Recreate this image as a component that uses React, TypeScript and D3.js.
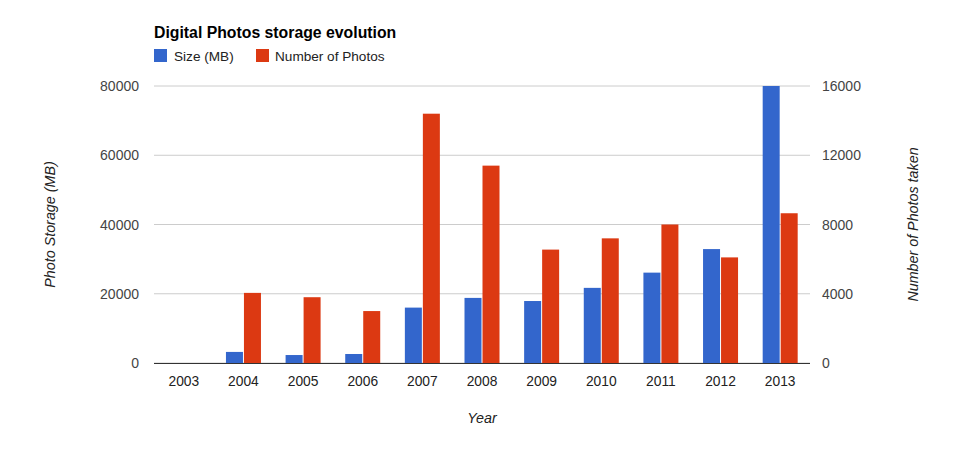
import React from 'react';
import * as d3 from 'd3';

const years = ['2003', '2004', '2005', '2006', '2007', '2008', '2009', '2010', '2011', '2012', '2013'];
const sizeMB = [0, 3200, 2300, 2600, 16000, 18800, 17900, 21700, 26100, 32900, 80000];
const photos = [0, 4050, 3800, 3000, 14400, 11400, 6550, 7200, 8000, 6100, 8650];
const leftTicks = [0, 20000, 40000, 60000, 80000];
const rightTicks = [0, 4000, 8000, 12000, 16000];

const W = 964, H = 449;
const left = 154, right = 810, top = 86, bottom = 363;
const font = 'Arial, "Liberation Sans", sans-serif';

export default function App() {
  const x = d3.scaleBand().domain(years).range([left, right]).paddingInner(0).paddingOuter(0);
  const yL = d3.scaleLinear().domain([0, 80000]).range([bottom, top]);
  const yR = d3.scaleLinear().domain([0, 16000]).range([bottom, top]);
  const barW = 17;

  return (
    <svg width={W} height={H} style={{ position: 'absolute', left: 0, top: 0 }} fontFamily={font}>
      <rect width={W} height={H} fill="#fff" />
      <text x={154} y={38} fontSize={15.8} fontWeight="bold" fill="#000">Digital Photos storage evolution</text>
      {/* legend */}
      <rect x={154} y={49} width={13} height={13} fill="#3366cc" />
      <text x={174} y={60.5} fontSize={13.6} fill="#222">Size (MB)</text>
      <rect x={256} y={49} width={13} height={13} fill="#dc3912" />
      <text x={275} y={60.5} fontSize={13.6} fill="#222">Number of Photos</text>

      {/* gridlines */}
      {leftTicks.map(t => (
        <g key={t}>
          <line x1={left} x2={right} y1={yL(t)} y2={yL(t)} stroke="#cccccc" />
          <text x={139} y={yL(t) + 5} textAnchor="end" fontSize={14} fill="#444">{t}</text>
        </g>
      ))}
      {rightTicks.map(t => (
        <text key={t} x={822} y={yR(t) + 5} fontSize={14} fill="#444">{t}</text>
      ))}

      {/* bars */}
      {years.map((yr, i) => {
        const c = (x(yr) as number) + x.bandwidth() / 2;
        return (
          <g key={yr}>
            {sizeMB[i] > 0 && (
              <rect x={c - barW - 0.5} y={yL(sizeMB[i])} width={barW} height={bottom - yL(sizeMB[i])} fill="#3366cc" />
            )}
            {photos[i] > 0 && (
              <rect x={c + 0.5} y={yR(photos[i])} width={barW} height={bottom - yR(photos[i])} fill="#dc3912" />
            )}
            <text x={c} y={386} textAnchor="middle" fontSize={13.8} fill="#222">{yr}</text>
          </g>
        );
      })}
      <line x1={left} x2={right} y1={bottom + 0.5} y2={bottom + 0.5} stroke="#333" />

      {/* axis titles */}
      <text x={482} y={423} textAnchor="middle" fontSize={14.3} fontStyle="italic" fill="#222">Year</text>
      <text transform={`translate(55,${(top + bottom) / 2}) rotate(-90)`} textAnchor="middle" fontSize={14.3} fontStyle="italic" fill="#222">Photo Storage (MB)</text>
      <text transform={`translate(918,${(top + bottom) / 2}) rotate(-90)`} textAnchor="middle" fontSize={14.3} fontStyle="italic" fill="#222">Number of Photos taken</text>
    </svg>
  );
}
